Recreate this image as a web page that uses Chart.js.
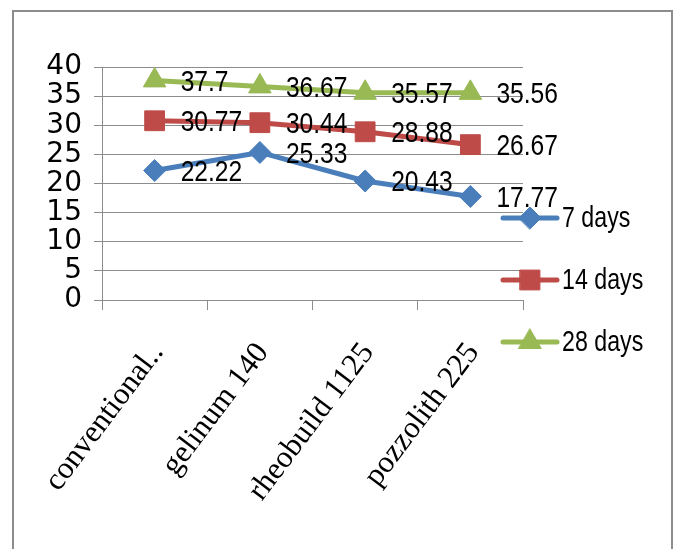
<!DOCTYPE html>
<html><head><meta charset="utf-8">
<script src="https://cdn.jsdelivr.net/npm/chart.js@4"></script>
<style>html,body{margin:0;padding:0;background:#fff;overflow:hidden}</style>
</head><body>
<canvas id="c" width="680" height="549"></canvas>
<script>
const categories = ['conventional..', 'gelinum 140', 'rheobuild 1125', 'pozzolith 225'];
const seriesNames = ['7 days', '14 days', '28 days'];
const days7 = [22.22, 25.33, 20.43, 17.77];
const days14 = [30.77, 30.44, 28.88, 26.67];
const days28 = [37.7, 36.67, 35.57, 35.56];
const yMin = 0, yMax = 40, yStep = 5;

const SANS = '"Liberation Sans", Arial, sans-serif';
const SERIF = '"Liberation Serif", "DejaVu Serif", serif';
const colors = ['#4A7EBB', '#BE4B48', '#98B954'];
const styles = ['rectRot', 'rect', 'triangle'];
const radii = [11, 14, 13];

const mctx = document.createElement('canvas').getContext('2d');
mctx.font = '28px "DejaVu Sans"';
const wNormal = mctx.measureText('4040').width;
mctx.font = 'condensed 28px "DejaVu Sans"';
const wCond = mctx.measureText('4040').width;
const hasCond = wCond < wNormal - 2;
const yFont = hasCond ? { family: '"DejaVu Sans"', style: 'condensed', size: 28 } : { family: SANS, size: 26 };

function narrowText(ctx, text, x, y, size, sx) {
  ctx.save();
  ctx.translate(x, y);
  ctx.scale(sx, 1);
  ctx.font = size + 'px ' + SANS;
  ctx.fillText(text, 0, 0);
  ctx.restore();
}

const frame = {
  id: 'frame',
  beforeDraw(chart) {
    const ctx = chart.ctx;
    ctx.save();
    ctx.fillStyle = '#fff';
    ctx.fillRect(0, 0, chart.width, chart.height);
    ctx.strokeStyle = '#8C8C8C';
    ctx.lineWidth = 2;
    ctx.strokeRect(13, 11, 659, 600);
    ctx.restore();
  }
};

const dataLabels = {
  id: 'dataLabels',
  afterDatasetsDraw(chart) {
    const ctx = chart.ctx;
    ctx.save();
    ctx.fillStyle = '#000';
    ctx.textAlign = 'left';
    ctx.textBaseline = 'middle';
    chart.data.datasets.forEach((ds, i) => {
      const meta = chart.getDatasetMeta(i);
      meta.data.forEach((pt, j) => {
        narrowText(ctx, String(ds.data[j]), pt.x + 26, pt.y + 2, 30, 0.82);
      });
    });
    ctx.restore();
  }
};

const sideLegend = {
  id: 'sideLegend',
  afterDraw(chart) {
    const ctx = chart.ctx;
    const ys = [218, 280, 342];
    ctx.save();
    chart.data.datasets.forEach((ds, i) => {
      const y = ys[i];
      ctx.strokeStyle = ds.borderColor;
      ctx.lineWidth = 5;
      ctx.lineCap = 'round';
      ctx.beginPath();
      ctx.moveTo(503, y);
      ctx.lineTo(557, y);
      ctx.stroke();
      ctx.fillStyle = ds.pointBackgroundColor;
      ctx.strokeStyle = ds.pointBackgroundColor;
      ctx.lineWidth = 1;
      Chart.helpers.drawPoint(ctx, {pointStyle: ds.pointStyle, radius: ds.pointRadius, borderWidth: 1, rotation: 0}, 530, y);
      ctx.fillStyle = '#000';
      ctx.textAlign = 'left';
      ctx.textBaseline = 'middle';
      narrowText(ctx, ds.label, 562, y + 1, 29, 0.8);
    });
    ctx.restore();
  }
};

const seriesData = [days7, days14, days28];
const datasets = seriesData.map((d, i) => ({
  label: seriesNames[i],
  data: d,
  borderColor: colors[i],
  backgroundColor: colors[i],
  pointBackgroundColor: colors[i],
  pointBorderColor: colors[i],
  pointStyle: styles[i],
  pointRadius: radii[i],
  pointBorderWidth: 1,
  borderWidth: 5,
  borderCapStyle: 'round',
  borderJoinStyle: 'round',
  tension: 0,
  fill: false
}));

new Chart(document.getElementById('c'), {
  type: 'line',
  data: { labels: categories, datasets },
  options: {
    responsive: false,
    animation: false,
    layout: { padding: { top: 67, left: 0, right: 157, bottom: 0 } },
    plugins: { legend: { display: false }, tooltip: { enabled: false } },
    scales: {
      x: {
        offset: true,
        afterFit(s) { s.height = 249; },
        grid: { offset: true, drawOnChartArea: false, color: '#8C8C8C', tickLength: 10, tickColor: '#8C8C8C' },
        border: { color: '#8C8C8C', width: 1 },
        ticks: {
          color: '#000',
          font: { family: SERIF, size: 31 },
          minRotation: 53, maxRotation: 53,
          labelOffset: 3,
          padding: 26,
          autoSkip: false
        }
      },
      y: {
        min: yMin, max: yMax,
        afterFit(s) { s.width = 102; },
        grid: { color: '#8C8C8C', tickLength: 8, tickColor: '#8C8C8C' },
        border: { color: '#8C8C8C', width: 1 },
        ticks: {
          stepSize: yStep,
          autoSkip: false,
          color: '#000',
          font: yFont,
          padding: 12
        }
      }
    }
  },
  plugins: [frame, dataLabels, sideLegend]
});
</script>
</body></html>
